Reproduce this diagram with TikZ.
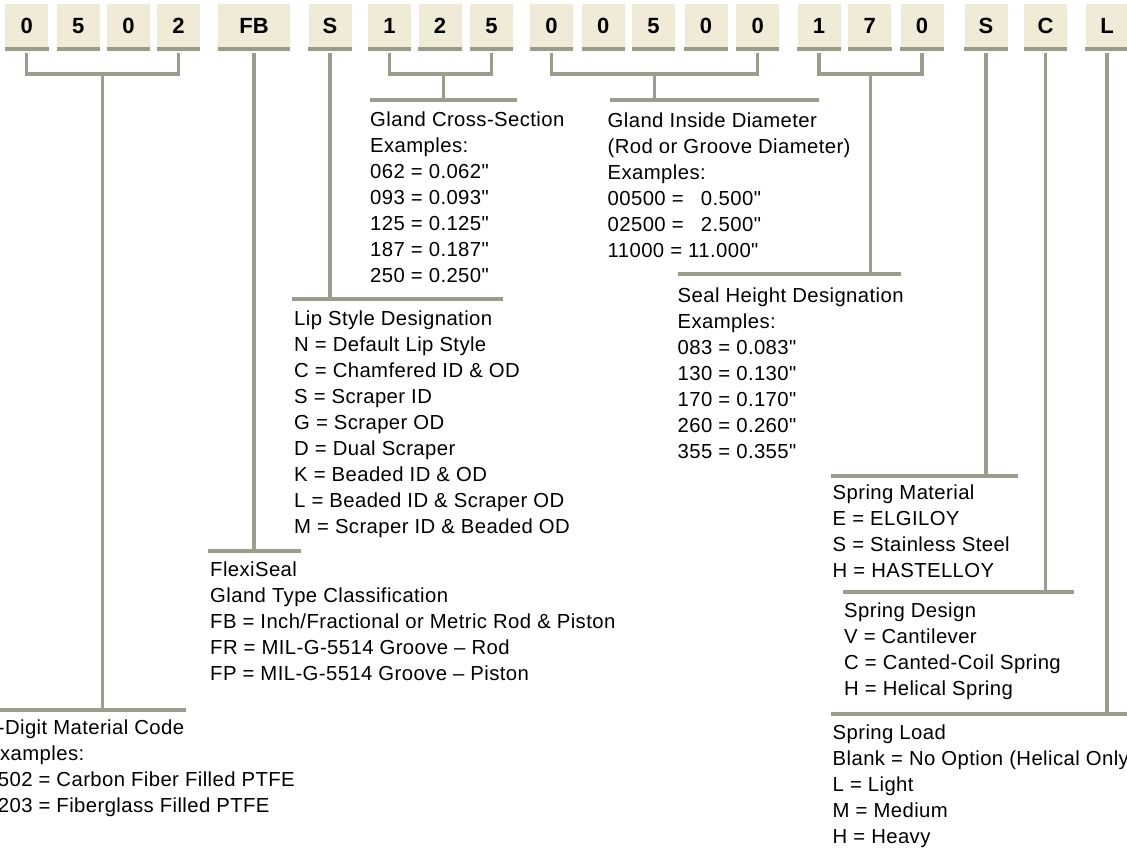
\documentclass[tikz,border=0pt]{standalone}
\usepackage{fontspec}
\setmainfont{Liberation Sans}
\newfontfamily\spacedfont[LetterSpace=2.0]{Liberation Sans}
\usetikzlibrary{positioning,calc}
\definecolor{CodeFill}{RGB}{240,235,214}
\definecolor{LeadGray}{RGB}{156,156,140}

\begin{document}
\begin{tikzpicture}[x=1pt,y=-1pt,
  code/.style={fill=CodeFill,minimum width=43pt,minimum height=43pt,
               inner sep=0pt,text height=15.8pt,text depth=0pt,
               font=\fontsize{22}{26}\selectfont\bfseries},
  lead/.style={draw=LeadGray,line width=3.3pt},
  legend/.style={anchor=north west,align=left,inner sep=0pt,
                 font=\spacedfont\fontsize{20.3}{26}\selectfont},
]
\clip (0,0) rectangle (1127,851);
\useasboundingbox (0,0) rectangle (1127,851);
% part number boxes
\foreach \nm/\x/\txt in {m1/26.8/0,m2/78.2/5,m3/128.5/0,m4/178.5/2,
    lip/330/S,cs1/389.5/1,cs2/440/2,cs3/491.5/5,
    id1/551.5/0,id2/603.3/0,id3/653.4/5,id4/706/0,id5/757.7/0,
    sh1/819/1,sh2/869.8/7,sh3/922/0,mat/986/S,des/1045.5/C,load/1107/L}
  \node[code] (\nm) at (\x,25.5) {\txt};
\node[code,minimum width=72pt] (fb) at (254,25.5) {FB};
\foreach \nm in {m1,m2,m3,m4,fb,lip,cs1,cs2,cs3,id1,id2,id3,id4,id5,
    sh1,sh2,sh3,mat,des,load}
  \draw[LeadGray,line width=3.5pt]
    ([yshift=-1.75pt]\nm.south west) -- ([yshift=-1.75pt]\nm.south east);
\coordinate (top) at (0,53);
\coordinate (knee) at (0,74);
% brackets over digit groups
\draw[lead] (m1 |- top) -- (m1 |- knee) -| (m4 |- top);
\draw[lead] (cs1 |- top) -- (cs1 |- knee) -| (cs3 |- top);
\draw[lead] (id1 |- top) -- (id1 |- knee) -| (id5 |- top);
\draw[lead] (sh1 |- top) -- (sh1 |- knee) -| (sh3 |- top);
\coordinate (g0502) at ($(m1)!.5!(m4)$);
\coordinate (g125) at (443.5,0);
\coordinate (g00500) at ($(id1)!.5!(id5)$);
\coordinate (g170) at ($(sh1)!.5!(sh3)$);

% 4-digit material code
\draw[lead] (-5,710) coordinate (matL) -- (186,710);
\draw[lead] (g0502 |- knee) -- (g0502 |- matL);
\node[legend] (matcode) at (-14,720) {4-Digit Material Code\\Examples:\\
  0502 = Carbon Fiber Filled PTFE\\0203 = Fiberglass Filled PTFE};

% gland type
\draw[lead] (208,551) coordinate (fbL) -- (301,551);
\draw[lead] (fb |- top) -- (fb |- fbL);
\node[legend] (gland) at (210,561.5) {FlexiSeal\\Gland Type Classification\\
  FB = Inch/Fractional or Metric Rod \& Piston\\
  FR = MIL-G-5514 Groove – Rod\\FP = MIL-G-5514 Groove – Piston};

% lip style
\draw[lead] (292,299) coordinate (lipL) -- (503,299);
\draw[lead] (lip |- top) -- (lip |- lipL);
\node[legend] (lipstyle) at (294,310.5) {Lip Style Designation\\
  N = Default Lip Style\\C = Chamfered ID \& OD\\S = Scraper ID\\
  G = Scraper OD\\D = Dual Scraper\\K = Beaded ID \& OD\\
  L = Beaded ID \& Scraper OD\\M = Scraper ID \& Beaded OD};

% cross-section
\draw[lead] (370,100) coordinate (csL) -- (517,100);
\draw[lead] (g125 |- knee) -- (g125 |- csL);
\node[legend] (cross) at (370,111.5) {Gland Cross-Section\\Examples:\\
  062 = 0.062"\\093 = 0.093"\\125 = 0.125"\\187 = 0.187"\\250 = 0.250"};

% inside diameter
\draw[lead] (609.5,100) coordinate (idL) -- (818.6,100);
\draw[lead] (g00500 |- knee) -- (g00500 |- idL);
\node[legend] (inside) at (607.5,112.5) {Gland Inside Diameter\\
  (Rod or Groove Diameter)\\Examples:\\00500 = \hphantom{1}0.500"\\
  02500 = \hphantom{1}2.500"\\11000 = 11.000"};

% seal height
\draw[lead] (678,274) coordinate (shL) -- (901,274);
\draw[lead] (g170 |- knee) -- (g170 |- shL);
\node[legend] (height) at (677.5,287.5) {Seal Height Designation\\Examples:\\
  083 = 0.083"\\130 = 0.130"\\170 = 0.170"\\260 = 0.260"\\355 = 0.355"};

% spring material
\draw[lead] (831,476) coordinate (smL) -- (1018,476);
\draw[lead] (mat |- top) -- (mat |- smL);
\node[legend] (springmat) at (832.5,484.5) {Spring Material\\E = ELGILOY\\
  S = Stainless Steel\\H = HASTELLOY};

% spring design
\draw[lead] (843,592) coordinate (sdL) -- (1074,592);
\draw[lead] (des |- top) -- (des |- sdL);
\node[legend] (springdes) at (844,602.5) {Spring Design\\V = Cantilever\\
  C = Canted-Coil Spring\\H = Helical Spring};

% spring load
\draw[lead] (831,714) coordinate (slL) -- (1135,714);
\draw[lead] (load |- top) -- (load |- slL);
\node[legend] (springload) at (832.5,724.2) {Spring Load\\
  Blank = No Option (Helical Only)\\L = Light\\M = Medium\\H = Heavy};
\end{tikzpicture}
\end{document}
